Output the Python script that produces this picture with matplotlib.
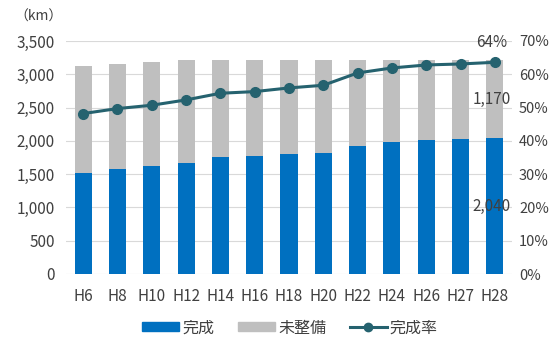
import numpy as np
import matplotlib.pyplot as plt
from matplotlib.lines import Line2D
from matplotlib.patches import Patch

plt.rcParams['font.family'] = ['Noto Sans CJK JP', 'DejaVu Sans']

years = ['H6', 'H8', 'H10', 'H12', 'H14', 'H16', 'H18', 'H20', 'H22', 'H24', 'H26', 'H27', 'H28']
done = [1510, 1570, 1625, 1670, 1760, 1775, 1800, 1820, 1925, 1985, 2015, 2030, 2040]
undone = [1620, 1590, 1565, 1540, 1460, 1445, 1410, 1390, 1285, 1225, 1195, 1180, 1170]
rate = [48.2, 49.7, 50.7, 52.3, 54.3, 54.8, 55.9, 56.7, 60.4, 61.9, 62.8, 63.1, 63.6]

blue = '#0070C0'
gray = '#BFBFBF'
teal = '#25626F'

fig = plt.figure(figsize=(5.58, 3.42), dpi=100)
ax = fig.add_axes([66 / 558, 1 - 274 / 342, 446 / 558, 233 / 342])
x = np.arange(len(years))
ax.bar(x, done, width=0.5, color=blue, zorder=2)
ax.bar(x, undone, bottom=done, width=0.5, color=gray, zorder=2)
ax.set_xlim(-0.5, len(years) - 0.5)
ax.set_ylim(0, 3500)
ax.set_yticks(range(0, 3501, 500))
ax.set_yticklabels(['{:,}'.format(v) for v in range(0, 3501, 500)])
ax.set_xticks(x)
ax.set_xticklabels(years)
ax.grid(axis='y', color='#D9D9D9', lw=0.8, zorder=0)
for s in ax.spines.values():
    s.set_visible(False)
ax.tick_params(length=0, labelsize=11, colors='#404040', pad=8)
ax.tick_params(axis='x', pad=10)

ax2 = ax.twinx()
ax2.plot(x, rate, color=teal, lw=2.2, marker='o', ms=7, zorder=3)
ax2.set_ylim(0, 70)
ax2.set_yticks(range(0, 71, 10))
ax2.set_yticklabels(['{}%'.format(v) for v in range(0, 71, 10)])
for s in ax2.spines.values():
    s.set_visible(False)
ax2.tick_params(length=0, labelsize=10.5, colors='#404040', pad=5)

last = len(years) - 1
ax2.text(last - 0.1, rate[-1] + 6, '{:.0f}%'.format(rate[-1]), ha='center', va='center', fontsize=11, color='#404040')
ax.text(last - 0.1, done[-1] + undone[-1] / 2, '{:,}'.format(undone[-1]), ha='center', va='center', fontsize=11, color='#404040')
ax.text(last - 0.1, done[-1] / 2, '{:,}'.format(done[-1]), ha='center', va='center', fontsize=11, color='#404040')

fig.text(38 / 558, 1 - 17 / 342, '（km）', ha='center', va='center', fontsize=10, color='#404040')

handles = [Patch(color=blue), Patch(color=gray),
           Line2D([], [], color=teal, lw=2.2, marker='o', ms=6)]
fig.legend(handles, ['完成', '未整備', '完成率'], loc='center', bbox_to_anchor=(290 / 558, 1 - 328 / 342),
           ncol=3, frameon=False, fontsize=11.5, handlelength=2.3, handleheight=0.5,
           handletextpad=0.2, columnspacing=1.5, labelcolor='#404040')

fig.savefig('out.png', dpi=100)
